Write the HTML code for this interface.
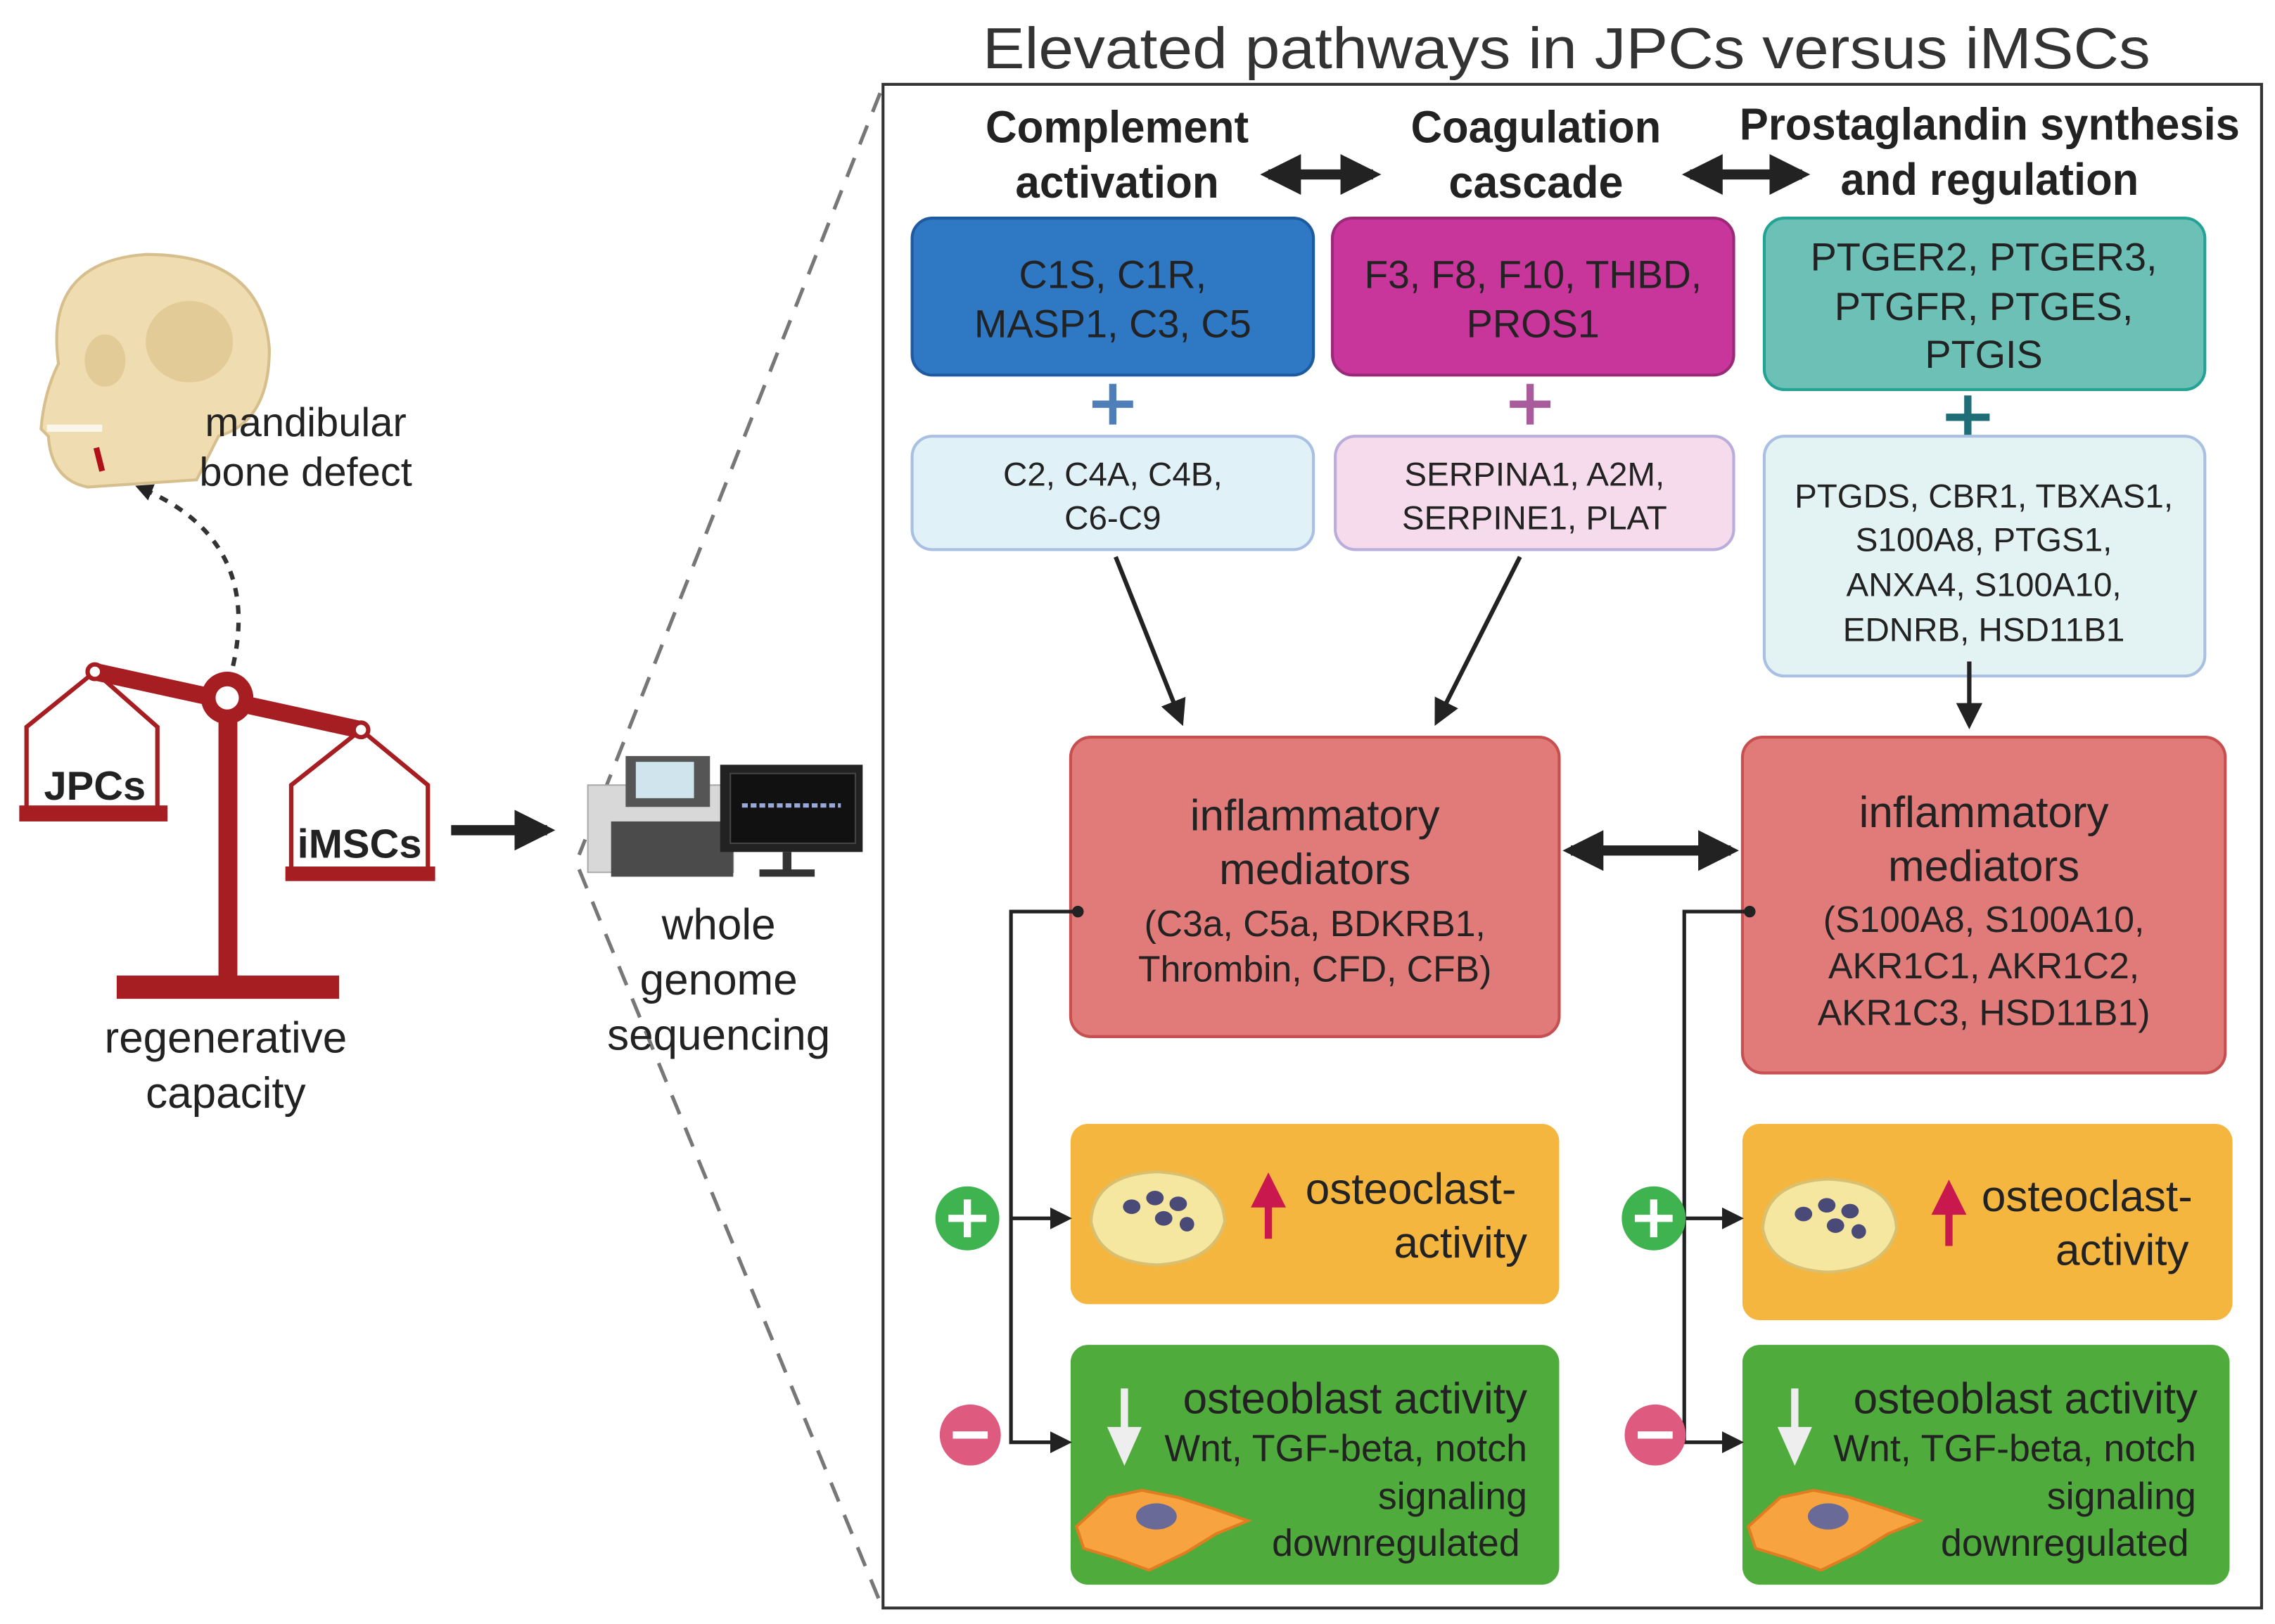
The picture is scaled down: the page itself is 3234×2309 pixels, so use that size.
<!DOCTYPE html>
<html><head><meta charset="utf-8"><style>
html,body{margin:0;padding:0;background:#fff;}
svg{display:block;}
text{font-family:"Liberation Sans",sans-serif;fill:#222;}
</style></head><body>
<svg width="3234" height="2309" viewBox="0 0 1564 1117" xmlns="http://www.w3.org/2000/svg">
<defs>
<marker id="ah" viewBox="0 0 10 10" refX="8" refY="5" markerWidth="4" markerHeight="4" orient="auto-start-reverse"><path d="M0,0 L10,5 L0,10 z" fill="#222"/></marker>
<marker id="as" viewBox="0 0 10 10" refX="8" refY="5" markerWidth="6" markerHeight="6" orient="auto"><path d="M0,0 L10,5 L0,10 z" fill="#222"/></marker>
</defs>
<rect width="1564" height="1117" fill="#fff"/>
<text x="1077" y="47" font-size="40" text-anchor="middle" style="fill:#333" textLength="803" lengthAdjust="spacingAndGlyphs">Elevated pathways in JPCs versus iMSCs</text>
<rect x="607" y="58" width="948" height="1048" fill="none" stroke="#333" stroke-width="2"/>
<line x1="605" y1="64" x2="398" y2="588" stroke="#777" stroke-width="2.5" stroke-dasharray="14,10"/>
<line x1="398" y1="598" x2="605" y2="1102" stroke="#777" stroke-width="2.5" stroke-dasharray="14,10"/>
<g font-size="31" font-weight="bold" text-anchor="middle">
<text x="768" y="98" textLength="181" lengthAdjust="spacingAndGlyphs">Complement</text><text x="768" y="136" textLength="140" lengthAdjust="spacingAndGlyphs">activation</text>
<text x="1056" y="98" textLength="172" lengthAdjust="spacingAndGlyphs">Coagulation</text><text x="1056" y="136" textLength="120" lengthAdjust="spacingAndGlyphs">cascade</text>
<text x="1368" y="96" textLength="344" lengthAdjust="spacingAndGlyphs">Prostaglandin synthesis</text><text x="1368" y="134" textLength="205" lengthAdjust="spacingAndGlyphs">and regulation</text>
</g>
<line x1="872" y1="120" x2="944" y2="120" stroke="#222" stroke-width="7" marker-start="url(#ah)" marker-end="url(#ah)"/>
<line x1="1162" y1="120" x2="1239" y2="120" stroke="#222" stroke-width="7" marker-start="url(#ah)" marker-end="url(#ah)"/>
<rect x="627" y="150" width="276" height="108" rx="14" fill="#2f78c4" stroke="#1d5aa0" stroke-width="2"/>
<rect x="916" y="150" width="276" height="108" rx="14" fill="#c8359b" stroke="#9a2a77" stroke-width="2"/>
<rect x="1213" y="150" width="303" height="118" rx="14" fill="#6cc0b6" stroke="#24a395" stroke-width="2"/>
<g font-size="27" text-anchor="middle">
<text x="765" y="198">C1S, C1R,</text><text x="765" y="232">MASP1, C3, C5</text>
<text x="1054" y="198" textLength="232" lengthAdjust="spacingAndGlyphs">F3, F8, F10, THBD,</text><text x="1054" y="232">PROS1</text>
<text x="1364" y="186">PTGER2, PTGER3,</text><text x="1364" y="220">PTGFR, PTGES,</text><text x="1364" y="253">PTGIS</text>
</g>
<g stroke-width="5">
<path d="M751,278 H779 M765,264 V292" stroke="#4f7fb8"/>
<path d="M1038,278 H1066 M1052,264 V292" stroke="#a85c9c"/>
<path d="M1338,287 H1368 M1353,272 V302" stroke="#1d6e77"/>
</g>
<rect x="627" y="300" width="276" height="78" rx="14" fill="#e0f1f8" stroke="#a9c0e3" stroke-width="2"/>
<rect x="918" y="300" width="274" height="78" rx="14" fill="#f6dbec" stroke="#b9aedb" stroke-width="2"/>
<rect x="1213" y="300" width="303" height="165" rx="14" fill="#e3f3f3" stroke="#a9c0e3" stroke-width="2"/>
<g font-size="23" text-anchor="middle">
<text x="765" y="334">C2, C4A, C4B,</text><text x="765" y="364">C6-C9</text>
<text x="1055" y="334">SERPINA1, A2M,</text><text x="1055" y="364">SERPINE1, PLAT</text>
<text x="1364" y="349">PTGDS, CBR1, TBXAS1,</text><text x="1364" y="379">S100A8, PTGS1,</text><text x="1364" y="410">ANXA4, S100A10,</text><text x="1364" y="441">EDNRB, HSD11B1</text>
</g>
<line x1="767" y1="383" x2="812" y2="496" stroke="#222" stroke-width="3" marker-end="url(#as)"/>
<line x1="1045" y1="383" x2="988" y2="496" stroke="#222" stroke-width="3" marker-end="url(#as)"/>
<line x1="1354" y1="455" x2="1354" y2="498" stroke="#222" stroke-width="3" marker-end="url(#as)"/>
<rect x="736" y="507" width="336" height="206" rx="14" fill="#e07b7a" stroke="#c84f50" stroke-width="2"/>
<rect x="1198" y="507" width="332" height="231" rx="14" fill="#e07b7a" stroke="#c84f50" stroke-width="2"/>
<g text-anchor="middle">
<text x="904" y="571" font-size="30">inflammatory</text><text x="904" y="608" font-size="30">mediators</text>
<text x="904" y="644" font-size="25">(C3a, C5a, BDKRB1,</text><text x="904" y="675" font-size="25">Thrombin, CFD, CFB)</text>
<text x="1364" y="569" font-size="30">inflammatory</text><text x="1364" y="606" font-size="30">mediators</text>
<text x="1364" y="641" font-size="25">(S100A8, S100A10,</text><text x="1364" y="673" font-size="25">AKR1C1, AKR1C2,</text><text x="1364" y="705" font-size="25">AKR1C3, HSD11B1)</text>
</g>
<line x1="1080" y1="585" x2="1190" y2="585" stroke="#222" stroke-width="7" marker-start="url(#ah)" marker-end="url(#ah)"/>
<rect x="736" y="773" width="336" height="124" rx="12" fill="#f4b63f"/>
<rect x="1198" y="773" width="337" height="135" rx="12" fill="#f4b63f"/>
<rect x="736" y="925" width="336" height="165" rx="12" fill="#4fab3b"/>
<rect x="1198" y="925" width="335" height="165" rx="12" fill="#4fab3b"/>
<g stroke="#222" stroke-width="2.5" fill="none">
<path d="M741,627 H695 V992 H734" marker-end="url(#as)"/><path d="M695,838 H734" marker-end="url(#as)"/>
<path d="M1203,627 H1158 V992 H1196" marker-end="url(#as)"/><path d="M1158,838 H1196" marker-end="url(#as)"/>
</g>
<circle cx="741" cy="627" r="4" fill="#222"/><circle cx="1203" cy="627" r="4" fill="#222"/>
<g>
<circle cx="665" cy="838" r="22" fill="#3fb34f"/><path d="M652,838 H678 M665,825 V851" stroke="#fff" stroke-width="5"/>
<circle cx="667" cy="987" r="21" fill="#de5a7f"/><path d="M655,987 H679" stroke="#fff" stroke-width="5"/>
<circle cx="1137" cy="838" r="22" fill="#3fb34f"/><path d="M1124,838 H1150 M1137,825 V851" stroke="#fff" stroke-width="5"/>
<circle cx="1138" cy="987" r="21" fill="#de5a7f"/><path d="M1126,987 H1150" stroke="#fff" stroke-width="5"/>
</g>
<g id="oc">
<path d="M750,840 Q752,808 795,806 Q840,808 842,840 Q835,868 795,870 Q755,868 750,840 z" fill="#f5e6a0" stroke="#d8c070" stroke-width="2"/>
<ellipse cx="778" cy="830" rx="6" ry="5" fill="#4a4a78"/><ellipse cx="794" cy="824" rx="6" ry="5" fill="#4a4a78"/><ellipse cx="810" cy="828" rx="6" ry="5" fill="#4a4a78"/><ellipse cx="800" cy="838" rx="6" ry="5" fill="#4a4a78"/><ellipse cx="816" cy="842" rx="5" ry="5" fill="#4a4a78"/>
</g>
<use href="#oc" x="462" y="5"/>
<path d="M872,852 V822 M864,828 L872,812 L880,828 z" stroke="#c8184e" stroke-width="5" fill="#c8184e"/>
<path d="M1340,857 V827 M1332,833 L1340,817 L1348,833 z" stroke="#c8184e" stroke-width="5" fill="#c8184e"/>
<g font-size="30">
<text x="970" y="828" text-anchor="middle">osteoclast-</text><text x="1050" y="865" text-anchor="end">activity</text>
<text x="1435" y="833" text-anchor="middle">osteoclast-</text><text x="1505" y="870" text-anchor="end">activity</text>
<text x="1050" y="972" text-anchor="end">osteoblast activity</text>
<text x="1511" y="972" text-anchor="end">osteoblast activity</text>
</g>
<g font-size="26" text-anchor="end">
<text x="1050" y="1005">Wnt, TGF-beta, notch</text><text x="1050" y="1038">signaling</text><text x="1045" y="1070">downregulated</text>
<text x="1510" y="1005">Wnt, TGF-beta, notch</text><text x="1510" y="1038">signaling</text><text x="1505" y="1070">downregulated</text>
</g>
<path d="M773,955 V988 M765,984 L773,1002 L781,984 z" stroke="#eee" stroke-width="5" fill="#eee"/>
<path d="M1234,955 V988 M1226,984 L1234,1002 L1242,984 z" stroke="#eee" stroke-width="5" fill="#eee"/>
<g id="ob"><path d="M740,1050 L762,1030 L785,1025 L810,1030 L835,1038 L858,1046 L836,1055 L815,1068 L790,1080 L768,1072 L745,1065 z" fill="#f6a340" stroke="#e07d20" stroke-width="2"/><ellipse cx="795" cy="1043" rx="14" ry="9" fill="#6a6a98"/></g>
<use href="#ob" x="462" y="0"/>
<!-- skull -->
<path d="M40,250 Q30,180 100,175 Q180,175 185,240 Q185,290 150,300 L135,330 L60,335 Q35,330 33,300 L28,295 Q30,270 40,250 z" fill="#efdcb0" stroke="#d6bf8c" stroke-width="2"/>
<ellipse cx="130" cy="235" rx="30" ry="28" fill="#e3cb98"/>
<ellipse cx="72" cy="248" rx="14" ry="18" fill="#e3cb98"/>
<rect x="32" y="292" width="38" height="5" fill="#fbf6ea"/>
<path d="M66,308 L70,324" stroke="#b0101a" stroke-width="4"/>
<text x="210" y="300" font-size="28" text-anchor="middle">mandibular</text>
<text x="210" y="334" font-size="28" text-anchor="middle">bone defect</text>
<path d="M160,458 Q180,370 95,335" fill="none" stroke="#333" stroke-width="3" stroke-dasharray="6,6" marker-end="url(#ah)"/>
<!-- scale -->
<g stroke="#a61e22" fill="none">
<line x1="65" y1="462" x2="248" y2="502" stroke-width="12"/>
<path d="M65,462 L18,500 V558 M65,462 L108,500 V558" stroke-width="3"/>
<path d="M248,502 L200,540 V600 M248,502 L294,540 V600" stroke-width="3"/>
</g>
<rect x="13" y="554" width="102" height="11" fill="#a61e22"/>
<rect x="196" y="596" width="103" height="10" fill="#a61e22"/>
<rect x="150" y="492" width="13" height="185" fill="#a61e22"/>
<rect x="80" y="671" width="153" height="16" fill="#a61e22"/>
<circle cx="156" cy="480" r="18" fill="#a61e22"/><circle cx="156" cy="480" r="8" fill="#fff"/>
<circle cx="65" cy="462" r="5" fill="#fff" stroke="#a61e22" stroke-width="3"/>
<circle cx="248" cy="502" r="5" fill="#fff" stroke="#a61e22" stroke-width="3"/>
<text x="65" y="550" font-size="28" font-weight="bold" text-anchor="middle">JPCs</text>
<text x="247" y="590" font-size="28" font-weight="bold" text-anchor="middle">iMSCs</text>
<text x="155" y="724" font-size="30" text-anchor="middle">regenerative</text>
<text x="155" y="762" font-size="30" text-anchor="middle">capacity</text>
<line x1="310" y1="571" x2="376" y2="571" stroke="#222" stroke-width="7" marker-end="url(#ah)"/>
<!-- sequencer -->
<rect x="404" y="540" width="100" height="60" fill="#d8d8d8" stroke="#aaa"/>
<rect x="430" y="520" width="58" height="35" fill="#555"/><rect x="437" y="524" width="40" height="25" fill="#cfe4ec"/>
<rect x="420" y="565" width="84" height="38" fill="#4b4b4b"/>
<rect x="495" y="526" width="98" height="60" fill="#222"/><rect x="502" y="532" width="86" height="48" fill="#111" stroke="#444"/>
<line x1="510" y1="554" x2="578" y2="554" stroke="#99a8d6" stroke-width="3" stroke-dasharray="4,2"/>
<rect x="538" y="586" width="6" height="14" fill="#333"/><rect x="522" y="598" width="38" height="5" fill="#333"/>
<text x="494" y="646" font-size="30" text-anchor="middle">whole</text>
<text x="494" y="684" font-size="30" text-anchor="middle">genome</text>
<text x="494" y="722" font-size="30" text-anchor="middle">sequencing</text>
</svg>
</body></html>
